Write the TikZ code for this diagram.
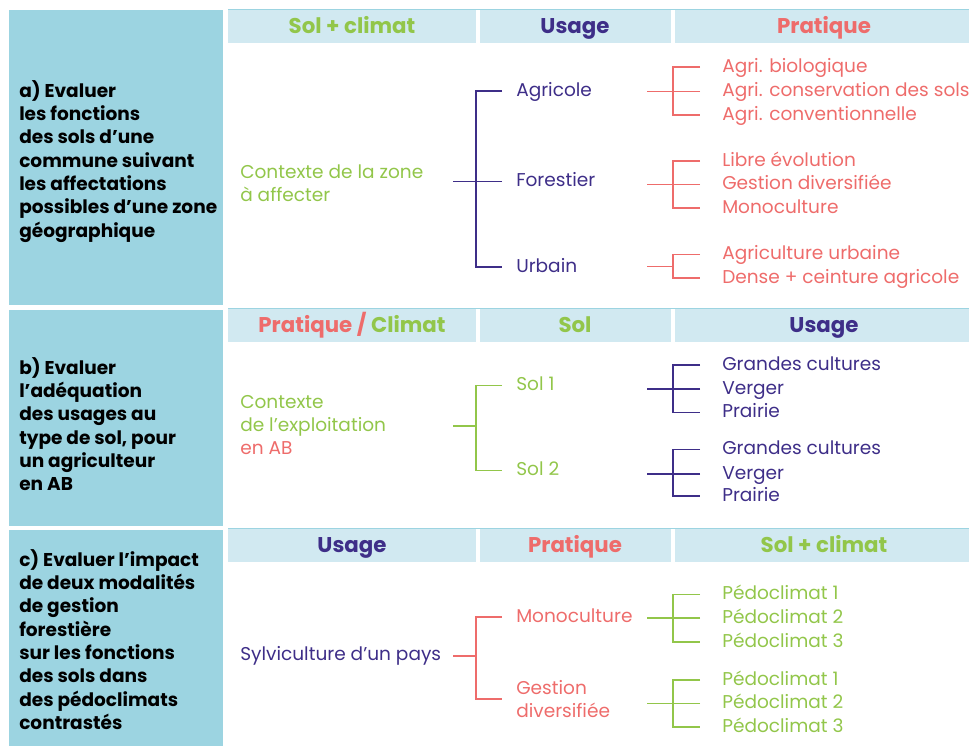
\documentclass[tikz,border=0pt]{standalone}
\usepackage{fontspec}
\setmainfont{Poppins}
\usetikzlibrary{calc}
\definecolor{goalteal}{HTML}{9CD4E1}
\definecolor{headblue}{HTML}{D1E9F1}
\definecolor{solgreen}{HTML}{92C64A}
\definecolor{usagepurple}{HTML}{3E2E88}
\definecolor{pratcoral}{HTML}{EE6C6B}
\newcommand\itemfont{\fontsize{13.9}{17.5}\selectfont}
\tikzset{
  goal/.style={anchor=north west, align=left, inner sep=0pt,
    font=\fontsize{13.9}{17.5}\selectfont\bfseries},
  head/.style={anchor=base, inner sep=0pt, font=\fontsize{16}{19}\selectfont\bfseries},
  item/.style={anchor=west, align=left, inner ysep=0pt, font=\itemfont},
  tall/.style={text height=11pt, text depth=3pt},
  mid/.style={item, tall, inner xsep=10.5pt},
  leaf/.style={item, tall, inner xsep=16.5pt},
  link/.style={line width=1.3pt}
}
\begin{document}
\begin{tikzpicture}[x=0.75pt, y=-0.75pt]
\useasboundingbox (0,0) rectangle (969,746);

% left column and header bars
\fill[goalteal] (9,10) rectangle (223,305);
\fill[goalteal] (9,310) rectangle (223,526);
\fill[goalteal] (9,530) rectangle (223,746);
\foreach \t in {10,309,529} {
  \fill[headblue] (228,\t) rectangle (476,\t+33);
  \fill[headblue] (480,\t) rectangle (671,\t+33);
  \fill[headblue] (675,\t) rectangle (969,\t+33);
  \draw[goalteal, line width=1.2pt] (228,\t-0.5) -- (969,\t-0.5);
}

\node[goal] (goalA) at (19,80) {a) Evaluer\\les fonctions\\des sols d’une\\commune suivant\\les affectations\\possibles d’une zone\\géographique};
\node[goal] (goalB) at (19,357) {b) Evaluer\\l’adéquation\\des usages au\\type de sol, pour\\un agriculteur\\en AB};
\node[goal] (goalC) at (19,549) {c) Evaluer l'impact\\de deux modalités\\de gestion\\forestière\\sur les fonctions\\des sols dans\\des pédoclimats\\contrastés};

% headers
\node[head, solgreen] (hA1) at (352,33) {Sol + climat};
\node[head, usagepurple] (hA2) at (575,33) {Usage};
\node[head, pratcoral] (hA3) at (824,33) {Pratique};
\node[head, pratcoral] (hB1) at (352,332) {Pratique / \textcolor{solgreen}{Climat}};
\node[head, solgreen] (hB2) at (575,332) {Sol};
\node[head, usagepurple] (hB3) at (824,332) {Usage};
\node[head, usagepurple] (hC1) at (352,552) {Usage};
\node[head, pratcoral] (hC2) at (575,552) {Pratique};
\node[head, solgreen] (hC3) at (824,552) {Sol + climat};

% a) zone a affecter
\node[item, inner xsep=0pt, solgreen] (ctxA) at (240,183) {Contexte de la zone\\à affecter};
\node[mid, usagepurple] (agri) at (502,91) {Agricole};
\node[mid, usagepurple] (fore) at (502,181.5) {Forestier};
\node[mid, usagepurple] (urb) at (502,267) {Urbain};
\coordinate (inA) at (453,181.5);
\coordinate (jA) at (476,181.5);
\draw[link, usagepurple] (agri.west) -| (jA) |- (urb.west) (inA) -- (jA) (fore.west) -- (jA);

\node[leaf, pratcoral] (bio) at (700,67) {Agri. biologique};
\node[leaf, pratcoral] (cons) at (700,91.5) {Agri. conservation des sols};
\node[leaf, pratcoral] (conv) at (700,115) {Agri. conventionnelle};
\coordinate (inA1) at (647,91.5);
\coordinate (jA1) at (673,91.5);
\draw[link, pratcoral] (bio.west) -| (jA1) |- (conv.west) (inA1) -- (jA1) (cons.west) -- (jA1);

\node[leaf, pratcoral] (libre) at (700,161) {Libre évolution};
\node[leaf, pratcoral] (gdivA) at (700,184.5) {Gestion diversifiée};
\node[leaf, pratcoral] (monoA) at (700,208) {Monoculture};
\coordinate (inA2) at (647,184.5);
\coordinate (jA2) at (673,184.5);
\draw[link, pratcoral] (libre.west) -| (jA2) |- (monoA.west) (inA2) -- (jA2) (gdivA.west) -- (jA2);

\node[leaf, pratcoral] (agurb) at (700,254.5) {Agriculture urbaine};
\node[leaf, pratcoral] (dense) at (700,278) {Dense + ceinture agricole};
\coordinate (inA3) at (647,266.5);
\coordinate (jA3) at (673,266.5);
\draw[link, pratcoral] (agurb.west) -| (jA3) |- (dense.west) (inA3) -- (jA3);

% b) exploitation en AB
\node[item, inner xsep=0pt, solgreen] (ctxB) at (240,425) {Contexte\\de l’exploitation\\\textcolor{pratcoral}{en AB}};
\node[mid, solgreen] (sol1) at (502,385.5) {Sol 1};
\node[mid, solgreen] (sol2) at (502,470.5) {Sol 2};
\coordinate (inB) at (453,426);
\coordinate (jB) at (476,426);
\draw[link, solgreen] (sol1.west) -| (jB) |- (sol2.west) (inB) -- (jB);

\node[leaf, usagepurple] (gcB1) at (700,365) {Grandes cultures};
\node[leaf, usagepurple] (verB1) at (700,389) {Verger};
\node[leaf, usagepurple] (praB1) at (700,412.5) {Prairie};
\coordinate (inB1) at (647,389);
\coordinate (jB1) at (673,389);
\draw[link, usagepurple] (gcB1.west) -| (jB1) |- (praB1.west) (inB1) -- (jB1) (verB1.west) -- (jB1);

\node[leaf, usagepurple] (gcB2) at (700,449.5) {Grandes cultures};
\node[leaf, usagepurple] (verB2) at (700,474) {Verger};
\node[leaf, usagepurple] (praB2) at (700,496) {Prairie};
\coordinate (inB2) at (647,474);
\coordinate (jB2) at (673,474);
\draw[link, usagepurple] (gcB2.west) -| (jB2) |- (praB2.west) (inB2) -- (jB2) (verB2.west) -- (jB2);

% c) sylviculture
\node[item, inner xsep=0pt, usagepurple] (ctxC) at (240,656) {Sylviculture d'un pays};
\node[mid, pratcoral] (monoC) at (502,617) {Monoculture};
\node[item, inner xsep=10.5pt, pratcoral] (gdivC) at (502,699) {Gestion\\diversifiée};
\coordinate (inC) at (453,656);
\coordinate (jC) at (476,656);
\draw[link, pratcoral] (monoC.west) -| (jC) |- (gdivC.west) (inC) -- (jC);

\node[leaf, solgreen] (pcA1) at (700,594.5) {Pédoclimat 1};
\node[leaf, solgreen] (pcA2) at (700,618) {Pédoclimat 2};
\node[leaf, solgreen] (pcA3) at (700,642) {Pédoclimat 3};
\coordinate (inC1) at (647,618);
\coordinate (jC1) at (673,618);
\draw[link, solgreen] (pcA1.west) -| (jC1) |- (pcA3.west) (inC1) -- (jC1) (pcA2.west) -- (jC1);

\node[leaf, solgreen] (pcB1) at (700,680) {Pédoclimat 1};
\node[leaf, solgreen] (pcB2) at (700,703.5) {Pédoclimat 2};
\node[leaf, solgreen] (pcB3) at (700,727) {Pédoclimat 3};
\coordinate (inC2) at (647,703.5);
\coordinate (jC2) at (673,703.5);
\draw[link, solgreen] (pcB1.west) -| (jC2) |- (pcB3.west) (inC2) -- (jC2) (pcB2.west) -- (jC2);
\end{tikzpicture}
\end{document}
